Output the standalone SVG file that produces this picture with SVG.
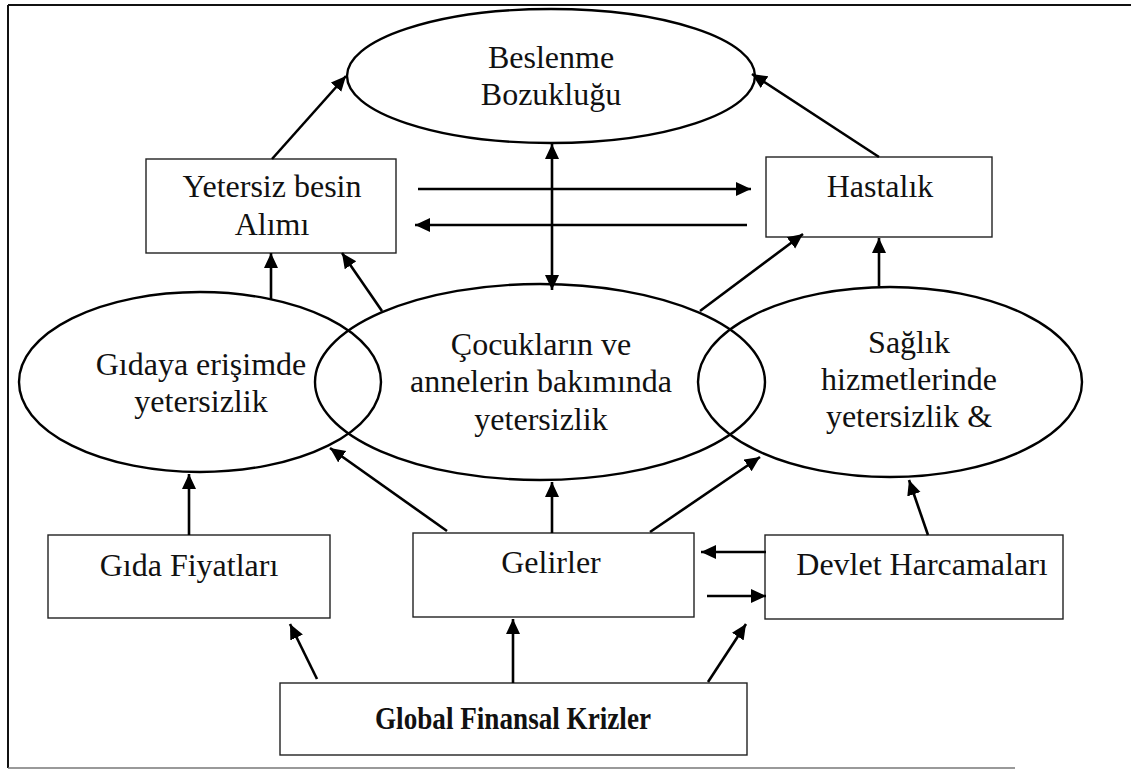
<svg xmlns="http://www.w3.org/2000/svg" width="1131" height="769" viewBox="0 0 1131 769">
  <style>
    .box { fill: #fff; stroke: #222; stroke-width: 1.4; }
    .oval { fill: none; stroke: #000; stroke-width: 2.4; }
    .lbl { font-family: "Liberation Serif", "Times New Roman", serif; font-size: 32px; fill: #111; text-anchor: middle; }
    .bold { font-weight: bold; font-size: 31px; }
    .link { stroke: #000; stroke-width: 2.6; fill: none; marker-end: url(#head); }
    .both { marker-start: url(#head); }
  </style>
  <defs>
    <marker id="head" markerUnits="userSpaceOnUse" markerWidth="16" markerHeight="15" refX="15" refY="7" orient="auto-start-reverse">
      <path d="M0,0 L15,7 L0,14 Z" fill="#000"/>
    </marker>
  </defs>

  <rect width="1131" height="769" fill="#fff"/>

  <!-- page frame -->
  <g id="frame">
    <line x1="8" y1="5" x2="1131" y2="5" stroke="#111" stroke-width="2"/>
    <line x1="8" y1="5" x2="8" y2="768" stroke="#111" stroke-width="2"/>
    <line x1="8" y1="768" x2="1015" y2="768" stroke="#777" stroke-width="1.5"/>
  </g>

  <g id="beslenme">
    <ellipse class="oval" cx="551" cy="76" rx="204" ry="67"/>
    <text class="lbl" x="551" y="68">Beslenme</text>
    <text class="lbl" x="551" y="105">Bozukluğu</text>
  </g>

  <g id="yetersiz-besin">
    <rect class="box" x="146" y="159" width="250" height="94"/>
    <text class="lbl" x="272" y="197">Yetersiz besin</text>
    <text class="lbl" x="272" y="235">Alımı</text>
  </g>

  <g id="hastalik">
    <rect class="box" x="766" y="157" width="226" height="80"/>
    <text class="lbl" x="880" y="197">Hastalık</text>
  </g>

  <g id="gidaya-erisim">
    <ellipse class="oval" cx="200" cy="382" rx="181" ry="90"/>
    <text class="lbl" x="201" y="375">Gıdaya erişimde</text>
    <text class="lbl" x="201" y="412">yetersizlik</text>
  </g>

  <g id="bakim">
    <ellipse class="oval" cx="540" cy="382" rx="225" ry="98"/>
    <text class="lbl" x="541" y="355">Çocukların ve</text>
    <text class="lbl" x="541" y="392">annelerin bakımında</text>
    <text class="lbl" x="541" y="430">yetersizlik</text>
  </g>

  <g id="saglik">
    <ellipse class="oval" cx="890" cy="382" rx="192" ry="95"/>
    <text class="lbl" x="909" y="353">Sağlık</text>
    <text class="lbl" x="909" y="390">hizmetlerinde</text>
    <text class="lbl" x="909" y="427">yetersizlik &amp;</text>
  </g>

  <g id="gida-fiyatlari">
    <rect class="box" x="48" y="535" width="282" height="83"/>
    <text class="lbl" x="189" y="576">Gıda Fiyatları</text>
  </g>

  <g id="gelirler">
    <rect class="box" x="413" y="533" width="281" height="84"/>
    <text class="lbl" x="551" y="573">Gelirler</text>
  </g>

  <g id="devlet">
    <rect class="box" x="765" y="535" width="298" height="84"/>
    <text class="lbl" x="922" y="575">Devlet Harcamaları</text>
  </g>

  <g id="global">
    <rect class="box" x="280" y="683" width="467" height="72"/>
    <text class="lbl bold" x="513" y="729" textLength="276" lengthAdjust="spacingAndGlyphs">Global Finansal Krizler</text>
  </g>

  <g id="connectors">
    <line class="link" x1="272" y1="159" x2="346" y2="76"/>
    <line class="link" x1="879" y1="157" x2="752" y2="74"/>
    <line class="link" x1="418" y1="189" x2="751" y2="189"/>
    <line class="link" x1="747" y1="225" x2="415" y2="225"/>
    <line class="link both" x1="552" y1="144" x2="552" y2="290"/>
    <line class="link" x1="271" y1="300" x2="271" y2="253"/>
    <line class="link" x1="382" y1="311" x2="342" y2="253"/>
    <line class="link" x1="700" y1="311" x2="803" y2="234"/>
    <line class="link" x1="879" y1="286" x2="879" y2="238"/>
    <line class="link" x1="189" y1="535" x2="189" y2="474"/>
    <line class="link" x1="447" y1="531" x2="330" y2="448"/>
    <line class="link" x1="552" y1="533" x2="552" y2="482"/>
    <line class="link" x1="650" y1="532" x2="760" y2="457"/>
    <line class="link" x1="928" y1="535" x2="909" y2="480"/>
    <line class="link" x1="766" y1="552" x2="701" y2="552"/>
    <line class="link" x1="707" y1="596" x2="766" y2="596"/>
    <line class="link" x1="317" y1="679" x2="290" y2="624"/>
    <line class="link" x1="513" y1="683" x2="513" y2="619"/>
    <line class="link" x1="708" y1="682" x2="746" y2="624"/>
  </g>
</svg>
